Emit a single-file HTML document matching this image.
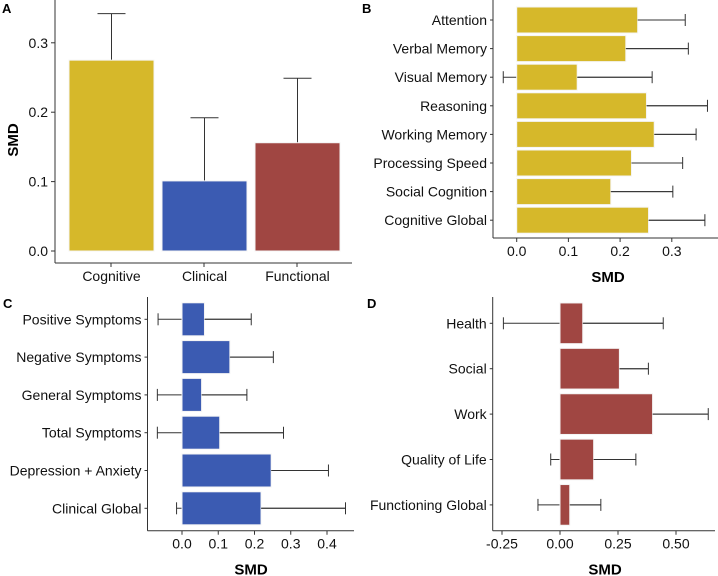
<!DOCTYPE html>
<html><head><meta charset="utf-8"><style>
html,body{margin:0;padding:0;background:#fff;overflow:hidden;}
svg{display:block;font-family:"Liberation Sans",Arial,sans-serif;}
</style></head><body>
<svg id="fig" width="718" height="576" viewBox="0 0 718 576"></svg>
<script>
// Panel A data
const aCats = ["Cognitive","Clinical","Functional"];
const aVals = [0.275,0.101,0.156];
const aHi = [0.342,0.192,0.249];
const aTicks = [0.0,0.1,0.2,0.3];
// Panel B data
const bCats = ["Attention","Verbal Memory","Visual Memory","Reasoning","Working Memory","Processing Speed","Social Cognition","Cognitive Global"];
const bVals = [0.234,0.211,0.117,0.251,0.266,0.222,0.182,0.255];
const bLo = [0.14,0.09,-0.026,0.13,0.18,0.12,0.06,0.14];
const bHi = [0.326,0.332,0.262,0.369,0.347,0.321,0.302,0.364];
const bTicks = [0.0,0.1,0.2,0.3];
// Panel C data
const cCats = ["Positive Symptoms","Negative Symptoms","General Symptoms","Total Symptoms","Depression + Anxiety","Clinical Global"];
const cVals = [0.062,0.132,0.054,0.104,0.246,0.218];
const cLo = [-0.066,0.01,-0.068,-0.068,0.09,-0.015];
const cHi = [0.191,0.252,0.179,0.280,0.404,0.451];
const cTicks = [0.0,0.1,0.2,0.3,0.4];
// Panel D data
const dCats = ["Health","Social","Work","Quality of Life","Functioning Global"];
const dVals = [0.098,0.256,0.399,0.145,0.042];
const dLo = [-0.244,0.13,0.16,-0.04,-0.095];
const dHi = [0.445,0.381,0.639,0.327,0.176];
const dTicks = [-0.25,0.0,0.25,0.5];
const dTickLabels = ["-0.25","0.00","0.25","0.50"];

const NS="http://www.w3.org/2000/svg";
const svg=document.getElementById('fig');
function el(tag,attrs,parent,text){
  const e=document.createElementNS(NS,tag);
  for(const k in attrs)e.setAttribute(k,attrs[k]);
  if(text!==undefined)e.textContent=text;
  (parent||svg).appendChild(e);return e;
}
const ERR="#333";

// ---------- Panel A ----------
(function(){
  const g=el('g',{});
  
  
  const y=v=>251-v*694;
  const x0=69, step=93, bw=85;
  const t=el('text',{x:2,y:13,'font-size':13,'font-weight':'bold'},g,'A');
  
  
  aCats.forEach((c,i)=>{
    const bx=x0+i*step, cx=bx+bw/2;
    const l=el('line',{x1:cx,x2:cx,y1:y(aHi[i]),y2:y(aVals[i]),stroke:ERR,'stroke-width':1},g);
    
    
    const cap=el('line',{x1:cx-14,x2:cx+14,y1:y(aHi[i]),y2:y(aHi[i]),stroke:ERR,'stroke-width':1},g);
    
    
    const r=el('rect',{x:bx,y:y(aVals[i]),width:bw,height:y(0)-y(aVals[i]),fill:['#D6B82A','#3B5BB2','#A04642'][i],stroke:'#f4f4f4','stroke-width':1},g);
    
    
    const lb=el('text',{x:cx,y:281,'font-size':14,'text-anchor':'middle',fill:'#111'},g,c);
    
    
  });
  const ax=el('line',{x1:55,x2:55,y1:0,y2:263,stroke:'#333','stroke-width':1},g);
  
  
  const bx=el('line',{x1:55,x2:352,y1:263,y2:263,stroke:'#333','stroke-width':1},g);
  
  
  aTicks.forEach(v=>{
    el('line',{x1:51,x2:55,y1:y(v),y2:y(v),stroke:'#333'},g);
    const tl=el('text',{x:48,y:y(v)+5,'font-size':14,'text-anchor':'end',fill:'#111'},g,v.toFixed(1));
    
    
  });
  [111,204,297].forEach(xx=>el('line',{x1:xx,x2:xx,y1:263,y2:267,stroke:'#333'},g));
  const yt=el('text',{x:0,y:0,'font-size':15,'font-weight':'bold','text-anchor':'middle',transform:'translate(18,140) rotate(-90)'},g,'SMD');
  
  
})();

// ---------- Horizontal panels ----------
function hpanel(o){
  const g=el('g',{});
  
  
  const x=v=>o.x0+v*o.scale;
  const lab=el('text',{x:o.lx,y:o.ly,'font-size':13,'font-weight':'bold'},g,o.letter);
  
  
  o.cats.forEach((c,i)=>{
    const cy=o.y0+i*o.step;
    const l=el('line',{x1:x(o.lo[i]),x2:x(o.hi[i]),y1:cy,y2:cy,stroke:ERR,'stroke-width':1},g);
    
    
    [o.lo[i],o.hi[i]].forEach(v=>el('line',{x1:x(v),x2:x(v),y1:cy-6,y2:cy+6,stroke:ERR,'stroke-width':1},g));
    const r=el('rect',{x:x(0),y:cy-o.bh/2,width:x(o.vals[i])-x(0),height:o.bh,fill:o.color,stroke:'#f4f4f4','stroke-width':1},g);
    
    
    el('line',{x1:x(o.vals[i]),x2:x(o.hi[i]),y1:cy,y2:cy,stroke:ERR,'stroke-width':1},g);
    const tl=el('text',{x:o.ax-6,y:cy+5,'font-size':14,'text-anchor':'end',fill:'#111'},g,c);
    
    
    el('line',{x1:o.ax-3,x2:o.ax,y1:cy,y2:cy,stroke:'#333'},g);
  });
  const ya=el('line',{x1:o.ax,x2:o.ax,y1:o.top,y2:o.bottom,stroke:'#333'},g);
  
  
  const xa=el('line',{x1:o.ax,x2:o.right,y1:o.bottom,y2:o.bottom,stroke:'#333'},g);
  
  
  o.ticks.forEach((v,i)=>{
    el('line',{x1:x(v),x2:x(v),y1:o.bottom,y2:o.bottom+4,stroke:'#333'},g);
    const tl=el('text',{x:x(v),y:o.bottom+18,'font-size':14,'text-anchor':'middle',fill:'#111'},g,o.tickLabels?o.tickLabels[i]:v.toFixed(1));
    
    
  });
  const xt=el('text',{x:o.tx,y:o.bottom+44,'font-size':15,'font-weight':'bold','text-anchor':'middle'},g,'SMD');
  
  
}
hpanel({name:'panel-b',letter:'B',lx:362,ly:13,cats:bCats,vals:bVals,lo:bLo,hi:bHi,ticks:bTicks,
  x0:516.7,scale:517,y0:20,step:28.6,bh:26,ax:493,top:0,bottom:238,right:718,tx:608,color:'#D6B82A'});
hpanel({name:'panel-c',letter:'C',lx:3,ly:308,cats:cCats,vals:cVals,lo:cLo,hi:cHi,ticks:cTicks,
  x0:182,scale:362.5,y0:319.3,step:37.8,bh:33,ax:147.5,top:297,bottom:530.7,right:354,tx:251,color:'#3B5BB2'});
hpanel({name:'panel-d',letter:'D',lx:367,ly:308,cats:dCats,vals:dVals,lo:dLo,hi:dHi,ticks:dTicks,tickLabels:dTickLabels,
  x0:560,scale:232,y0:323.3,step:45.4,bh:40.7,ax:492.7,top:297,bottom:530.7,right:715,tx:605,color:'#A04642'});
</script>
</body></html>
